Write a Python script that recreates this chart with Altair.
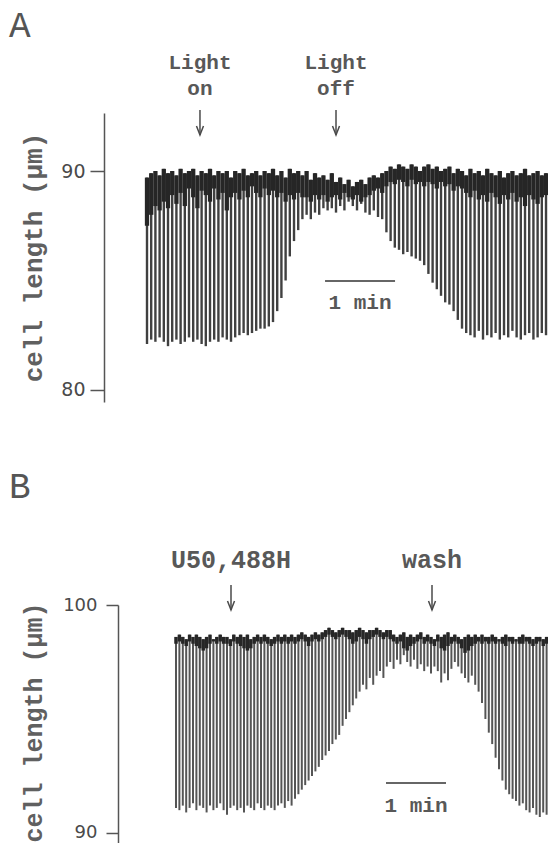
import altair as alt
import pandas as pd

# ---------------- data ----------------
# stimulation periods (s) -> beat times
A_PERIOD_S = 3.6
B_PERIOD_S = 3.4

# Panel A: resting (top) length, peak-shortening (bottom) length, and lower edge of
# the dense dark band near rest, per twitch (µm)
A_top = [89.7, 89.9, 90.0, 89.8, 90.1, 89.9,
         90.0, 89.8, 90.1, 89.9, 90.0, 90.1, 89.8, 90.0, 89.9, 90.1, 89.8, 90.0, 89.9,
         90.0, 89.7, 90.0, 89.9, 90.1, 89.8, 89.9, 90.0, 89.8, 90.0, 89.9, 90.1,
         89.8, 90.0, 89.7, 90.1, 89.9, 90.0, 89.8, 90.0, 89.6, 89.9, 89.7, 89.8, 89.6,
         89.9, 89.5, 89.7, 89.4,
         89.6, 89.3, 89.5, 89.6, 89.4,
         89.7, 89.8, 89.7, 89.9, 90.0,
         90.2, 90.1, 90.3, 90.2, 90.1, 90.3, 90.2, 90.0, 90.2, 90.3, 90.1, 90.2, 90.0,
         90.1, 90.2, 89.9, 90.1,
         90.0, 89.8, 90.1, 89.9, 90.0, 89.8, 90.1, 89.9, 89.8, 90.0, 89.7, 89.9, 90.0,
         89.8, 89.9, 90.1, 89.8, 89.9, 90.0, 89.8, 89.9, 90.0, 89.8]
A_bottom = [82.1, 82.3, 82.2, 82.4, 82.2, 82.0, 82.2, 82.3, 82.1, 82.2, 82.4, 82.2, 82.3,
            82.1, 82.0, 82.2, 82.3, 82.2, 82.4, 82.3, 82.2, 82.4, 82.5, 82.6, 82.5,
            82.6, 82.7, 82.8, 82.8, 82.9, 83.1, 83.6, 84.2, 85.0, 86.1, 86.8, 87.3, 87.8,
            88.0, 87.8, 88.1, 88.0, 88.3, 88.2, 88.3, 88.1, 88.4, 88.2, 88.6, 88.4, 88.2,
            88.5, 88.1, 88.0, 88.2, 87.9, 87.8,
            87.2, 86.8, 86.5, 86.4, 86.2, 86.3, 86.1, 86.0, 85.9, 85.7, 85.3, 84.9, 84.6,
            84.3, 84.0, 83.9, 83.6, 83.2, 82.8,
            82.6, 82.5, 82.4, 82.7, 82.3, 82.5, 82.4, 82.6, 82.3, 82.5, 82.4, 82.7, 82.4,
            82.3, 82.5, 82.6, 82.3, 82.4, 82.6, 82.5, 82.4, 82.6]
A_band = [87.5, 88.0, 88.4, 88.2, 88.6, 88.3, 88.9, 88.5,
          89.0, 88.4, 89.2, 88.8, 88.3, 89.1, 88.9, 88.6, 89.2, 88.7, 89.0, 88.2, 88.8,
          89.0, 88.7, 89.1, 88.8, 89.3, 89.0, 88.8, 89.2, 88.9, 89.1,
          88.8, 89.0, 88.6, 88.9, 88.7, 89.0, 88.8,
          88.8, 88.6, 88.9, 88.7, 88.9, 88.6, 88.8, 88.9, 88.7, 89.0, 88.8, 88.7, 88.9,
          88.6, 88.8, 88.9, 89.1, 89.2, 89.0,
          89.3, 89.5, 89.4, 89.6, 89.5, 89.3, 89.6, 89.4, 89.5, 89.3, 89.5, 89.4, 89.2,
          89.5, 89.3, 89.4, 89.1, 89.3, 89.2,
          89.0, 88.8, 89.1, 88.7, 88.9, 88.6, 89.0, 88.8, 88.5, 88.9, 88.7, 89.0, 88.6,
          88.8, 88.4, 88.9, 88.7, 88.5, 88.8, 88.9, 88.7, 88.9]

# Panel B
B_top = [98.6, 98.7, 98.6, 98.5, 98.7, 98.6, 98.7, 98.6, 98.5, 98.6,
         98.7, 98.5, 98.6, 98.7, 98.6, 98.6, 98.5, 98.7, 98.6, 98.7,
         98.6, 98.7, 98.5, 98.6, 98.7, 98.6, 98.7, 98.6, 98.5, 98.6,
         98.7, 98.6, 98.7, 98.6, 98.7, 98.6, 98.7, 98.8, 98.7, 98.6,
         98.7, 98.8, 98.7, 98.8,
         98.9, 99.0, 98.9, 98.8, 98.9, 99.0, 98.9, 98.9, 98.8, 98.9,
         99.0, 98.9, 98.8, 98.9, 98.9, 99.0, 98.9, 98.8, 98.9, 98.9,
         98.7, 98.6, 98.7, 98.8, 98.6, 98.7, 98.6, 98.7, 98.8, 98.6,
         98.7, 98.6, 98.5, 98.7, 98.6, 98.7, 98.8, 98.6, 98.7, 98.6,
         98.5, 98.6, 98.7, 98.6, 98.7, 98.6, 98.7, 98.6, 98.6, 98.7,
         98.6, 98.5, 98.6, 98.7, 98.6, 98.6, 98.5, 98.6, 98.7, 98.6,
         98.6, 98.5, 98.6, 98.6, 98.5, 98.6, 98.6, 98.5]
B_bottom = [91.1, 91.0, 91.2, 90.9, 91.1, 91.3, 91.0, 91.2, 91.1, 90.9,
            91.2, 91.0, 91.1, 91.3, 91.0, 90.8, 91.1, 91.2, 91.0, 91.1,
            90.9, 91.2, 91.1, 91.0, 91.3, 91.1, 91.0, 91.2, 91.1, 91.0,
            91.2, 91.3, 91.1, 91.4, 91.2, 91.5,
            91.7, 91.9, 92.1, 92.3, 92.5, 92.7, 92.9, 93.2, 93.4, 93.6,
            93.9, 94.1, 94.3, 94.7, 95.0, 95.3, 95.6, 95.9, 96.2, 96.5,
            96.3, 96.8, 96.5, 96.9, 97.1, 96.8, 97.3, 97.5, 97.2, 97.6,
            97.4, 97.8, 97.5, 97.3, 97.6, 97.2, 97.4, 97.1, 97.3, 97.0,
            97.3, 97.1, 96.6, 97.0, 96.7, 97.2, 97.5, 97.3, 97.0, 96.8,
            96.6, 96.9, 96.5, 96.2, 95.7, 95.0, 94.4, 93.9, 93.3, 92.8,
            92.3, 91.9, 91.7, 91.5, 91.4, 91.2, 91.3, 91.0, 90.9, 91.1,
            90.8, 90.7, 90.9, 90.8, 90.9, 90.7]
B_band = [98.3, 98.4, 98.3, 98.2, 98.4, 98.3, 98.2, 98.1, 98.0, 98.1,
          98.3, 98.4, 98.3, 98.4, 98.3, 98.3, 98.2, 98.4, 98.3, 98.2,
          98.1, 98.0, 98.1, 98.3, 98.4, 98.3, 98.4, 98.3, 98.2, 98.3,
          98.4, 98.3, 98.4, 98.3, 98.4, 98.3, 98.4, 98.5, 98.4, 98.2,
          98.4, 98.5, 98.4, 98.5,
          98.6, 98.7, 98.6, 98.5, 98.6, 98.7, 98.6, 98.5, 98.3, 98.4,
          98.6, 98.5, 98.3, 98.5, 98.6, 98.7, 98.6, 98.5, 98.6, 98.5,
          98.4, 98.3, 98.4, 98.1, 98.0, 98.2, 98.3, 98.4, 98.5, 98.3,
          98.4, 98.3, 98.2, 98.4, 98.1, 98.0, 98.2, 98.3, 98.4, 98.3,
          98.1, 97.9, 98.0, 98.2, 98.3, 98.4, 98.3, 98.4, 98.3, 98.4,
          98.3, 98.4, 98.3, 98.2, 98.4, 98.3, 98.4, 98.3, 98.3, 98.4,
          98.3, 98.2, 98.3, 98.4, 98.2, 98.3, 98.3, 98.2]

# events (time in s from first beat) and labels
A_event_t = [45.4, 162.0]
A_event_line1 = ["Light", "Light"]
A_event_line2 = ["on", "off"]
B_event_t = [55.0, 256.0]
B_event_label = ["U50,488H", "wash"]

# 1-min calibration bars (start, end in s)
A_bar = [152.6, 212.6]
B_bar = [210.0, 270.0]

A_ticks = [80, 90]
B_ticks = [90, 100]
TITLE = "cell length (µm)"

# ---------------- frames ----------------
dfA = pd.DataFrame({"t": [i * A_PERIOD_S for i in range(len(A_top))],
                    "top": A_top, "bottom": A_bottom, "band": A_band})
dfB = pd.DataFrame({"t": [i * B_PERIOD_S for i in range(len(B_top))],
                    "top": B_top, "bottom": B_bottom, "band": B_band})
evA = pd.DataFrame({"t": A_event_t, "l1": A_event_line1, "l2": A_event_line2})
evB = pd.DataFrame({"t": B_event_t, "l1": B_event_label})
barA = pd.DataFrame({"t0": [A_bar[0]], "t1": [A_bar[1]], "label": ["1 min"],
                     "tm": [(A_bar[0] + A_bar[1]) / 2]})
barB = pd.DataFrame({"t0": [B_bar[0]], "t1": [B_bar[1]], "label": ["1 min"],
                     "tm": [(B_bar[0] + B_bar[1]) / 2]})

INK = "#4a4a4a"
TXT = "#585858"
MONO = "Liberation Mono"
ARROW = "M -0.7 -1.8 L 0 0 L 0.7 -1.8"


def panel(df, ev, bar, xs, ys, axis, letter, letter_y, two_line, ev_y1, ev_y2,
          arrow_y, arrow_y2, bar_y, bar_text_y, ev_size, band_w, beat_color, beat_w):
    X = lambda f: alt.X(f, scale=xs, axis=None)
    beats = alt.Chart(df).mark_rule(color=beat_color, strokeWidth=beat_w, clip=True).encode(
        x=X("t:Q"), y=alt.Y("bottom:Q", scale=ys, axis=axis, title=TITLE), y2="top:Q")
    band = alt.Chart(df).mark_rule(color="#262626", strokeWidth=band_w, clip=True).encode(
        x=X("t:Q"), y=alt.Y("band:Q", scale=ys, axis=axis, title=TITLE), y2="top:Q")
    sbar = alt.Chart(bar).mark_rule(color="#333333", strokeWidth=1.6).encode(
        x=X("t0:Q"), x2="t1:Q", y=alt.value(bar_y))
    stext = alt.Chart(bar).mark_text(font=MONO, fontSize=21, fontWeight="bold", color=TXT,
                                     baseline="alphabetic").encode(
        x=X("tm:Q"), y=alt.value(bar_text_y), text="label:N")
    shaft = alt.Chart(ev).mark_rule(color=INK, strokeWidth=1.5).encode(
        x=X("t:Q"), y=alt.value(arrow_y), y2=alt.value(arrow_y2))
    head = alt.Chart(ev).mark_point(shape=ARROW, filled=False, size=100, strokeWidth=1.5,
                                    color=INK, opacity=1).encode(
        x=X("t:Q"), y=alt.value(arrow_y2))
    t1 = alt.Chart(ev).mark_text(font=MONO, fontSize=ev_size, fontWeight="bold", color=TXT,
                                 baseline="alphabetic").encode(
        x=X("t:Q"), y=alt.value(ev_y1), text="l1:N")
    layers = [beats, band, sbar, stext, shaft, head, t1]
    if two_line:
        t2 = alt.Chart(ev).mark_text(font=MONO, fontSize=ev_size, fontWeight="bold", color=TXT,
                                     baseline="alphabetic").encode(
            x=X("t:Q"), y=alt.value(ev_y2), text="l2:N")
        layers.append(t2)
    lab = alt.Chart(ev.head(1)).mark_text(font=MONO, fontSize=36, color="#555555", align="left",
                                          baseline="alphabetic").encode(
        x=alt.value(-95), y=alt.value(letter_y), text=alt.value(letter))
    layers.append(lab)
    return alt.layer(*layers)


# plot areas: x from 104 px to 548 px (page); A: 70 px/min, B: 60 px/min
xA = alt.Scale(domain=[-36.86, 343.7], nice=False, zero=False)
yA = alt.Scale(domain=[79.45, 92.65], nice=False, zero=False)
xB = alt.Scale(domain=[-72.0, 372.0], nice=False, zero=False)
yB = alt.Scale(domain=[89.56, 100.0], nice=False, zero=False)

common = dict(format="d", tickWidth=1.5, tickColor="#555555", domainColor="#555555",
              domainWidth=1.5, labelFont="DejaVu Sans", labelColor=INK, grid=False,
              title=TITLE, titleFont=MONO, titleFontWeight="bold",
              titleColor="#606060", titleAngle=270, titleBaseline="middle", titleAlign="center")
axisA = alt.Axis(values=A_ticks, tickSize=14, labelFontSize=19, labelPadding=5,
                 titleFontSize=26, titleX=-71, titleY=144, **common)
axisB = alt.Axis(values=B_ticks, tickSize=12, labelFontSize=18, labelPadding=9, offset=-14,
                 titleFontSize=25, titleX=-85, titleY=117, **common)

pA = panel(dfA, evA, barA, xA, yA, axisA, "A", -76, True, -44, -18, -3, 22, 168, 196,
           21, 4.3, "#404040", 2.4)
anchor = alt.Chart(evA.head(1)).mark_rule(strokeWidth=1, opacity=0).encode(
    x=alt.value(-95.5), x2=alt.value(-94), y=alt.value(-104.5))
pA = alt.layer(pA, anchor).properties(width=444, height=289)

pB = panel(dfB, evB, barB, xB, yB, axisB, "B", -107, False, -37, None, -20, 5, 178, 207,
           25, 3.5, "#555555", 2.0).properties(width=444, height=238)

chart = alt.vconcat(pA, pB, spacing=203, bounds="flush").configure_view(stroke=None).properties(
    background="white", padding=0)

chart.save("out.html", embed_options={"renderer": "svg", "actions": False})
